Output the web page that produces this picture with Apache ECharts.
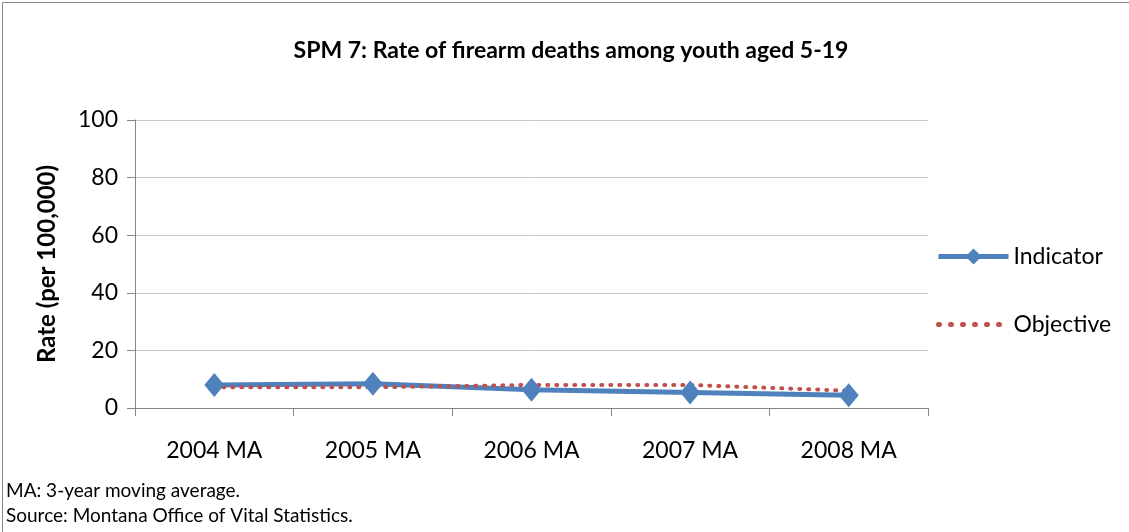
<!DOCTYPE html>
<html>
<head>
<meta charset="utf-8">
<script src="https://cdn.jsdelivr.net/npm/echarts@6/dist/echarts.min.js"></script>
<style>
html,body{margin:0;padding:0;background:#fff;}
#c{width:1129px;height:532px;}
</style>
</head>
<body>
<div id="c"></div>
<script>
const categories = ['2004 MA', '2005 MA', '2006 MA', '2007 MA', '2008 MA'];
const indicator = [8.0, 8.4, 6.3, 5.4, 4.4];
const objective = [7.2, 7.2, 8.0, 8.0, 6.0];
const yTicks = [0, 20, 40, 60, 80, 100];
const titleText = 'SPM 7: Rate of firearm deaths among youth aged 5-19';
const yName = 'Rate (per 100,000)';
const notes = ['MA: 3-year moving average.', 'Source: Montana Office of Vital Statistics.'];

const FONT = 'Lato, "Open Sans", "Liberation Sans", sans-serif';
const chart = echarts.init(document.getElementById('c'));
chart.setOption({
  animation: false,
  backgroundColor: '#fff',
  title: {
    text: titleText, left: 566, top: 34, textAlign: 'center',
    textStyle: {fontFamily: FONT, fontSize: 23, fontWeight: 'bold', color: '#000'}
  },
  grid: {left: 135, right: 201, top: 120, bottom: 124, containLabel: false},
  legend: {
    orient: 'vertical', left: 931, top: 240, itemGap: 45,
    itemWidth: 70, itemHeight: 20, itemSymbolSize: 18,
    textStyle: {fontFamily: FONT, fontSize: 23, color: '#000'},
    data: [
      {name: 'Indicator', lineStyle: {width: 5}},
      {name: 'Objective', itemStyle: {opacity: 0}, lineStyle: {width: 5, type: [1, 11], cap: 'round'}}
    ]
  },
  xAxis: {
    type: 'category', data: categories, boundaryGap: true,
    axisLine: {lineStyle: {color: '#868686', width: 1}},
    axisTick: {show: true, length: 8, lineStyle: {color: '#868686'}},
    axisLabel: {fontFamily: FONT, fontSize: 23, color: '#000', margin: 31}
  },
  yAxis: {
    type: 'value', min: yTicks[0], max: yTicks[yTicks.length - 1], interval: 20,
    name: yName, nameLocation: 'middle', nameGap: 76, nameRotate: 90,
    nameTextStyle: {fontFamily: FONT, fontSize: 24, fontWeight: 'bold', color: '#000'},
    axisLine: {show: true, lineStyle: {color: '#868686'}},
    axisTick: {show: true, length: 8, lineStyle: {color: '#868686'}},
    splitLine: {lineStyle: {color: '#c8c8c8'}},
    axisLabel: {fontFamily: FONT, fontSize: 23, color: '#000', margin: 17}
  },
  series: [
    {
      name: 'Indicator', type: 'line', data: indicator,
      symbol: 'diamond', symbolSize: [20, 24],
      lineStyle: {color: '#4F81BD', width: 5},
      itemStyle: {color: '#4F81BD'}
    },
    {
      name: 'Objective', type: 'line', data: objective,
      symbol: 'none', showSymbol: false,
      lineStyle: {color: '#C0504D', width: 4, type: [1, 8], cap: 'round'},
      itemStyle: {color: '#C0504D'}
    }
  ],
  graphic: [
    {type: 'rect', left: 0, top: 0, shape: {x: 0.5, y: 0.5, width: 1127, height: 530},
     style: {fill: 'none', stroke: '#868686', lineWidth: 1}, silent: true},
    {type: 'text', left: 6, top: 481, style: {text: notes[0], font: '19px ' + FONT, fill: '#000'}},
    {type: 'text', left: 6, top: 506, style: {text: notes[1], font: '19px ' + FONT, fill: '#000'}}
  ]
});
</script>
</body>
</html>
